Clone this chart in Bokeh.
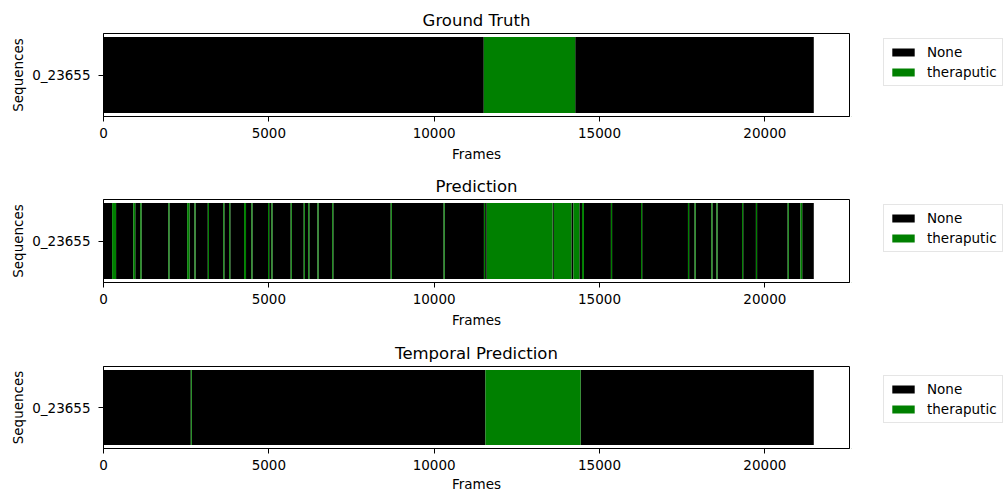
from bokeh.plotting import figure
from bokeh.layouts import column, row
from bokeh.models import (Range1d, FactorRange, FixedTicker, Legend, LegendItem,
                          ColumnDataSource)
from bokeh.embed import file_html
from bokeh.resources import INLINE

# ---------------- data ----------------
sequences = ["0_23655"]
labels = ["None", "theraputic"]
label_colors = ["#000000", "#008000"]
total_frames = 21480
x_max = 22560
x_ticks = [0, 5000, 10000, 15000, 20000]
panel_titles = ["Ground Truth", "Prediction", "Temporal Prediction"]

# green ("theraputic") segments per panel as (start, end) frames
gt_starts = [11500]
gt_ends = [14265]

pred_starts = [260, 900, 1110, 1960, 2530, 2750, 3155, 3620, 3800, 4250, 4470,
               4975, 5075, 5660, 6055, 6190, 6470, 6915, 8685, 10285, 11505,
               11590, 13620, 14210, 14470, 15345, 16255, 17675, 17875, 18380,
               18535, 19310, 19730, 20690, 21075]
pred_ends = [380, 960, 1150, 1995, 2600, 2785, 3190, 3655, 3835, 4310, 4505,
             5010, 5110, 5695, 6090, 6225, 6505, 6950, 8720, 10320, 11540,
             13580, 14150, 14390, 14530, 15380, 16290, 17710, 17910, 18415,
             18570, 19345, 19765, 20725, 21130]

temp_starts = [2640, 11550]
temp_ends = [2670, 14430]

panels_green = [(gt_starts, gt_ends), (pred_starts, pred_ends), (temp_starts, temp_ends)]

FONT = "DejaVu Sans"


def complement(starts, ends, total):
    s_out, e_out = [], []
    cur = 0
    for s, e in zip(starts, ends):
        if s > cur:
            s_out.append(cur)
            e_out.append(s)
        cur = max(cur, e)
    if cur < total:
        s_out.append(cur)
        e_out.append(total)
    return s_out, e_out


# layout per panel: (height, top border, bottom border, legend top offset)
layouts = [(166, 33, 50, 40), (166, 33, 50, 40), (162, 34, 45, 41)]
MAIN_W = 851
LEG_W = 1008 - MAIN_W

rows = []
for i, (title, (gs, ge)) in enumerate(zip(panel_titles, panels_green)):
    h, bt, bb, lt = layouts[i]
    p = figure(width=MAIN_W, height=h, output_backend="svg",
               toolbar_location=None,
               x_range=Range1d(0, x_max), y_range=FactorRange(factors=sequences),
               min_border_left=103, min_border_right=2,
               min_border_top=bt, min_border_bottom=bb, title=title)
    p.title.align = "center"
    p.title.text_font = FONT
    p.title.text_font_size = "16.5px"
    p.title.text_font_style = "normal"
    p.title.text_color = "#000000"
    p.title.standoff = 8

    ns, ne = complement(gs, ge, total_frames)
    p.hbar(y=[sequences[0]] * len(ns), left=ns, right=ne, height=0.915,
           fill_color=label_colors[0], line_color=None)
    p.hbar(y=[sequences[0]] * len(gs), left=gs, right=ge, height=0.915,
           fill_color=label_colors[1], line_color=None)

    p.xgrid.visible = False
    p.ygrid.visible = False
    p.outline_line_color = "#000000"
    p.outline_line_width = 1
    p.outline_line_alpha = 1
    p.background_fill_color = "white"
    p.border_fill_color = "white"

    p.xaxis.ticker = FixedTicker(ticks=x_ticks)
    p.xaxis.axis_label = "Frames"
    p.yaxis.axis_label = "Sequences"
    for ax in (p.xaxis, p.yaxis):
        ax.axis_label_text_font = FONT
        ax.axis_label_text_font_size = "13.5px"
        ax.axis_label_text_font_style = "normal"
        ax.axis_label_text_color = "#000000"
        ax.major_label_text_font = FONT
        ax.major_label_text_font_size = "13.5px"
        ax.major_label_text_color = "#000000"
        ax.axis_line_color = "#000000"
        ax.major_tick_line_color = "#000000"
        ax.major_tick_out = 5
        ax.major_tick_in = 0
        ax.minor_tick_line_color = None
    p.xaxis.major_label_standoff = 6
    p.xaxis.axis_label_standoff = 5 if i < 2 else 3
    p.yaxis.major_label_standoff = 8
    p.yaxis.axis_label_standoff = 3

    # legend lives in its own small figure to the right of the panel;
    # its swatch renderers sit outside the visible range
    lf = figure(width=LEG_W, height=h, output_backend="svg", toolbar_location=None,
                x_range=Range1d(0, 1), y_range=Range1d(0, 1),
                min_border_left=0, min_border_right=0,
                min_border_top=0, min_border_bottom=0)
    lf.axis.visible = False
    lf.grid.visible = False
    lf.outline_line_color = None
    lf.background_fill_color = "white"
    lf.border_fill_color = "white"
    items = []
    for lab, col in zip(labels, label_colors):
        src = ColumnDataSource(data=dict(y=[-10], left=[-10], right=[-9]))
        r = lf.hbar(y="y", left="left", right="right", height=0.5, source=src,
                    fill_color=col, line_color=None)
        items.append(LegendItem(label=lab, renderers=[r]))
    legend_h = 47
    legend = Legend(items=items, location=(32, h - lt - 2 * legend_h - 2))
    legend.margin = 0
    legend.padding = 5
    legend.spacing = 4
    legend.glyph_width = 28
    legend.glyph_height = 10
    legend.label_standoff = 10
    legend.label_text_font = FONT
    legend.label_text_font_size = "13.5px"
    legend.label_text_color = "#000000"
    legend.border_line_color = "#cccccc"
    legend.border_line_width = 1
    legend.background_fill_alpha = 1
    lf.add_layout(legend, "center")
    rows.append(row(p, lf))

layout = column(*rows)
open("out.html", "w").write(file_html(layout, INLINE))
